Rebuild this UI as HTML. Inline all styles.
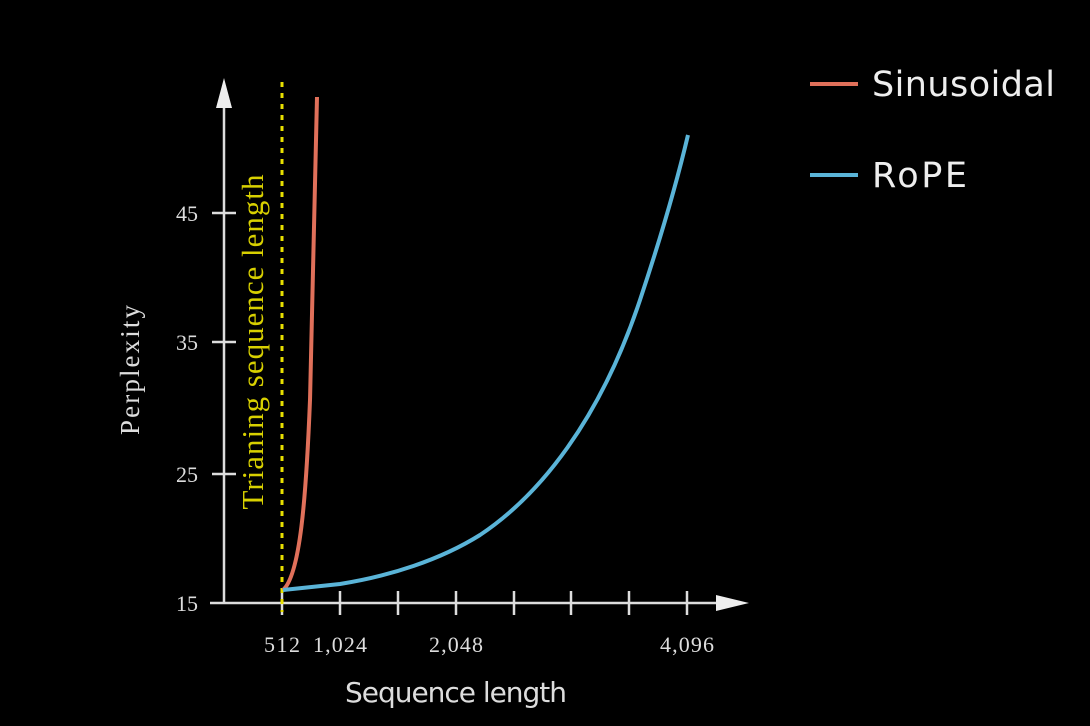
<!DOCTYPE html>
<html><head><style>body{margin:0;background:#000}</style></head><body>
<svg width="1090" height="726" xmlns="http://www.w3.org/2000/svg" style="display:block">
<rect width="1090" height="726" fill="#000"/>
<g stroke="#ddd" stroke-width="2.5" fill="none">
<line x1="224" y1="603" x2="224" y2="100"/>
<line x1="210" y1="603" x2="725" y2="603"/>
<line x1="212" y1="213" x2="236" y2="213"/>
<line x1="212" y1="342" x2="236" y2="342"/>
<line x1="212" y1="474" x2="236" y2="474"/>
<line x1="340" y1="591" x2="340" y2="615"/>
<line x1="398" y1="591" x2="398" y2="615"/>
<line x1="456" y1="591" x2="456" y2="615"/>
<line x1="514" y1="591" x2="514" y2="615"/>
<line x1="571" y1="591" x2="571" y2="615"/>
<line x1="629" y1="591" x2="629" y2="615"/>
<line x1="687" y1="591" x2="687" y2="615"/>
<line x1="282" y1="591" x2="282" y2="615"/>
</g>
<polygon points="224,78 216,108 232,108" fill="#eee"/>
<polygon points="749,603 716,595 716,611" fill="#eee"/>
<line x1="282" y1="82" x2="282" y2="612" stroke="#e8e000" stroke-width="3" stroke-dasharray="5,6"/>
<path d="M283,590 C300,575 306,500 310,400 C313,300 315,200 317,97" stroke="#e0705a" stroke-width="4" fill="none"/>
<path d="M283,590 L340,584 C390,576 440,560 480,535 C540,495 600,420 640,300 C660,240 675,190 688,135" stroke="#5ab4d8" stroke-width="4" fill="none"/>
<g font-family="Liberation Serif, serif" fill="#ddd" font-size="22">
<text x="198" y="221" text-anchor="end">45</text>
<text x="198" y="350" text-anchor="end">35</text>
<text x="198" y="482" text-anchor="end">25</text>
<text x="198" y="611" text-anchor="end">15</text>
<text x="282" y="652" text-anchor="middle" textLength="36">512</text>
<text x="340" y="652" text-anchor="middle" textLength="54">1,024</text>
<text x="456" y="652" text-anchor="middle" textLength="54">2,048</text>
<text x="687" y="652" text-anchor="middle" textLength="54">4,096</text>
<text transform="translate(139,370) rotate(-90)" text-anchor="middle" font-size="27" textLength="130">Perplexity</text>
<text transform="translate(263,342) rotate(-90)" text-anchor="middle" font-size="31" fill="#d8d000" textLength="335">Trianing sequence length</text>
</g>
<text x="456" y="702" text-anchor="middle" font-size="28" font-family="DejaVu Sans, sans-serif" fill="#ddd" textLength="222">Sequence length</text>
<line x1="810" y1="84" x2="858" y2="84" stroke="#e0705a" stroke-width="4"/>
<line x1="810" y1="175" x2="858" y2="175" stroke="#5ab4d8" stroke-width="4"/>
<g font-family="DejaVu Sans, sans-serif" fill="#eee" font-size="35">
<text x="872" y="96" textLength="183">Sinusoidal</text>
<text x="872" y="187" textLength="95">RoPE</text>
</g>
</svg>
</body></html>
